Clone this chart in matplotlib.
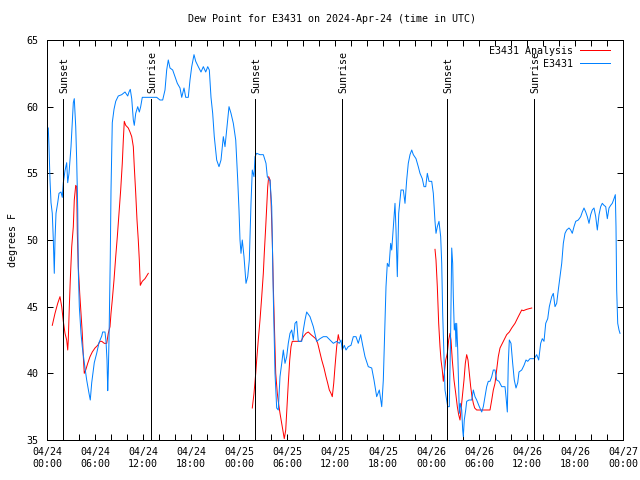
import numpy as np
import matplotlib
matplotlib.use("Agg")
import matplotlib.pyplot as plt

# ---------------- data (hours since 2024-04-24 00:00 UTC) ----------------
obs_hours = [0.16, 0.25, 0.375, 0.5, 0.66, 0.79, 0.91, 1.0, 1.125, 1.34, 1.5, 1.75, 1.91, 2.04, 2.25, 2.46,
             2.59, 2.75, 2.875, 3.0, 3.16, 3.29, 3.41, 3.59, 3.71, 3.84, 3.91, 4.04, 4.25, 4.41, 4.66, 4.96,
             5.25, 5.41, 5.59, 5.91, 6.21, 6.5, 6.84, 6.96, 7.25, 7.375, 7.5, 7.59, 7.66, 7.75, 7.91, 8.0,
             8.16, 8.375, 8.59, 8.91, 9.34, 9.75, 10.09, 10.25, 10.41, 10.59, 10.79, 10.91, 11.09, 11.34,
             11.54, 11.71, 11.91, 13.71, 14.125, 14.46, 14.75, 14.96, 15.16, 15.375, 15.71, 16.0, 16.29,
             16.625, 16.84, 17.125, 17.34, 17.66, 17.875, 18.09, 18.375, 18.59, 18.91, 19.25, 19.54, 19.84,
             20.09, 20.29, 20.5, 20.71, 20.91, 21.21, 21.5, 21.75, 22.04, 22.25, 22.46, 22.75, 23.0, 23.29,
             23.59, 23.84, 24.0, 24.125, 24.25, 24.41, 24.625, 24.875, 25.09, 25.29, 25.5, 25.66, 25.875,
             26.0, 26.21, 26.625, 27.04, 27.375, 27.54, 27.79, 27.875, 28.09, 28.29, 28.5, 28.71, 28.91,
             29.125, 29.34, 29.54, 29.75, 29.96, 30.16, 30.375, 30.59, 30.79, 31.0, 31.21, 31.41, 31.84,
             32.04, 32.25, 32.46, 32.875, 33.29, 33.71, 34.125, 34.54, 34.96, 35.375, 35.79, 36.21, 36.54,
             36.75, 36.91, 37.16, 37.375, 37.66, 38.0, 38.29, 38.625, 38.91, 39.21, 39.46, 39.75, 40.16,
             40.59, 40.875, 41.21, 41.54, 41.84, 42.04, 42.25, 42.375, 42.54, 42.75, 42.96, 43.09, 43.375,
             43.5, 43.625, 43.79, 43.96, 44.25, 44.54, 44.75, 44.96, 45.16, 45.375, 45.59, 45.79, 46.125,
             46.41, 46.625, 46.91, 47.125, 47.34, 47.54, 47.75, 48.09, 48.29, 48.5, 48.625, 48.79, 49.0,
             49.21, 49.34, 49.46, 49.625, 49.75, 49.96, 50.09, 50.29, 50.46, 50.59, 50.71, 50.79, 50.91,
             51.04, 51.125, 51.21, 51.34, 51.46, 51.54, 51.66, 51.84, 51.96, 52.04, 52.16, 52.34, 52.46,
             52.75, 53.09, 53.29, 53.5, 53.71, 54.04, 54.34, 54.54, 54.75, 54.96, 55.16, 55.375, 55.59,
             55.79, 56.0, 56.21, 56.5, 56.84, 57.25, 57.375, 57.54, 57.66, 57.79, 58.0, 58.21, 58.41,
             58.625, 58.84, 59.0, 59.34, 59.625, 59.875, 60.09, 60.375, 60.66, 60.91, 61.21, 61.46, 61.71,
             61.91, 62.125, 62.34, 62.59, 62.79, 63.09, 63.29, 63.5, 63.71, 63.91, 64.125, 64.34, 64.54,
             64.75, 64.96, 65.25, 65.46, 65.66, 65.875, 66.09, 66.41, 66.71, 66.91, 67.125, 67.34, 67.54,
             67.75, 67.96, 68.16, 68.375, 68.59, 68.79, 69.0, 69.21, 69.41, 69.625, 69.84, 70.04, 70.25,
             70.46, 70.66, 70.875, 71.04, 71.125, 71.21, 71.34, 71.5, 71.625]
obs_dewpt = [58.4, 57.0, 54.5, 52.8, 52.0, 50.0, 47.5, 50.0, 52.0, 52.8, 53.5, 53.6, 53.2, 54.3, 55.2, 55.8,
             54.3, 55.0, 56.0, 57.0, 58.8, 60.3, 60.6, 58.5, 56.0, 52.3, 47.8, 45.0, 43.0, 42.0, 40.8, 39.5,
             38.5, 38.0, 39.3, 40.8, 41.5, 42.3, 42.8, 43.1, 43.1, 42.4, 41.0, 38.7, 40.0, 42.5, 48.7, 53.7,
             58.8, 59.8, 60.4, 60.8, 60.9, 61.1, 60.8, 61.1, 61.3, 60.6, 59.0, 58.6, 59.5, 60.0,
             59.6, 60.0, 60.7, 60.7, 60.5, 60.5, 61.25, 62.75, 63.5, 62.9, 62.75, 62.25, 61.75,
             61.4, 60.7, 61.4, 60.7, 60.7, 62.0, 63.0, 63.9, 63.4, 63.0, 62.6, 63.0, 62.6,
             63.0, 62.75, 60.7, 59.5, 57.75, 56.0, 55.5, 56.0, 57.75, 57.0, 58.25, 60.0, 59.5, 58.75,
             57.5, 54.5, 52.25, 50.0, 49.0, 50.0, 48.75, 46.75, 47.25, 48.5, 52.75, 55.25, 54.75,
             56.25, 56.5, 56.4, 56.4, 55.75, 54.75, 54.5, 54.5, 52.5, 45.75, 40.0, 37.4, 37.25,
             39.75, 40.75, 41.75, 40.75, 41.25, 42.25, 43.0, 43.25, 42.5, 43.75, 43.9, 42.4, 42.4,
             43.25, 44.0, 44.6, 44.25, 43.5, 42.4, 42.6, 42.75, 42.75, 42.5, 42.25, 42.4, 42.25,
             42.5, 41.75, 42.1, 41.75, 42.0, 42.1, 42.75, 42.75, 42.25, 42.9, 42.1, 41.25, 40.5,
             40.4, 39.5, 38.25, 38.75, 37.5, 39.5, 43.75, 46.5, 48.25, 48.0, 49.75, 49.25, 51.75,
             52.75, 50.75, 47.25, 52.0, 53.75, 53.75, 52.75, 54.5, 55.75, 56.4, 56.75, 56.4, 56.1,
             55.5, 55.0, 54.6, 54.0, 54.0, 55.0, 54.4, 54.4, 53.5, 51.4, 50.5, 51.0, 51.4,
             50.25, 48.25, 44.5, 41.25, 38.75, 38.0, 37.5, 37.5, 43.25, 49.4, 48.25, 45.75, 43.25,
             43.75, 42.0, 43.75, 41.75, 38.75, 37.0, 37.75, 37.25, 35.75, 35.25, 36.5, 37.25, 37.9,
             38.0, 38.0, 38.75, 38.25, 38.0, 37.5, 37.1, 37.5, 38.25, 39.0, 39.4, 39.4, 39.75,
             40.25, 40.25, 39.5, 39.4, 39.0, 39.0, 38.25, 37.1, 40.75, 42.5, 42.25, 40.75, 39.5,
             38.9, 39.3, 40.1, 40.25, 40.6, 41.0, 40.9, 41.1, 41.1, 41.1, 41.4, 41.0, 42.25,
             42.6, 42.4, 43.75, 44.1, 45.0, 45.75, 46.0, 45.0, 45.25, 46.25, 47.25, 48.25, 49.75,
             50.5, 50.75, 50.9, 50.75, 50.5, 51.0, 51.4, 51.5, 51.75, 52.1, 52.4, 52.1, 51.75,
             51.25, 51.9, 52.25, 52.4, 51.75, 50.75, 51.9, 52.5, 52.75, 52.6, 52.5, 51.6, 52.4,
             52.6, 52.75, 53.1, 53.4, 51.0, 46.25, 43.75, 43.25, 43.0]

# analysis series (NaN separates the three night-time segments)
ana_hours = [0.66, 1.0, 1.34, 1.625, 1.84, 2.04, 2.25, 2.46, 2.59, 2.66, 2.79, 2.91, 3.09, 3.29, 3.41, 3.59,
             3.71, 3.79, 3.91, 4.09, 4.25, 4.41, 4.54, 4.66, 4.84, 5.09, 5.375, 5.66, 6.0, 6.34, 6.625,
             6.84, 7.16, 7.46, 7.66, 7.875, 8.0, 8.16, 8.375, 8.59, 8.79, 9.0, 9.21, 9.41, 9.54, 9.66,
             9.84, 10.16, 10.375, 10.59, 10.79, 10.91, 11.09, 11.25, 11.41, 11.54, 11.66, 11.91, 12.25,
             12.66, np.nan,
             25.66, 25.875, 26.09, 26.21, 26.41, 26.625, 26.84, 27.04, 27.16, 27.34, 27.46, 27.59, 27.71,
             27.875, 28.0, 28.16, 28.29, 28.41, 28.59, 28.79, 28.91, 29.125, 29.41, 29.66, 29.84, 30.0,
             30.16, 30.34, 30.5, 30.66, 31.0, 31.41, 31.75, 32.04, 32.375, 32.66, 33.0, 33.29, 33.59,
             33.84, 34.04, 34.34, 34.625, 34.875, 35.09, 35.29, 35.5, 35.66, 35.84, 36.0, 36.21, 36.41,
             36.54, np.nan,
             48.5, 48.625, 48.79, 48.96, 49.125, 49.25, 49.41, 49.54, 49.66, 49.84, 50.04, 50.21, 50.375,
             50.5, 50.66, 50.875, 51.09, 51.29, 51.46, 51.625, 51.79, 51.96, 52.125, 52.29, 52.46, 52.625,
             52.79, 52.96, 53.125, 53.29, 53.46, 53.71, 55.375, 55.59, 55.79, 56.0, 56.21, 56.41, 56.625,
             57.04, 57.46, 57.79, 58.09, 58.5, 58.91, 59.34, 59.54, 59.96, 60.59]
ana_dewpt = [43.6, 44.5, 45.25, 45.75, 45.0, 43.9, 43.0, 42.5, 41.75, 42.5, 45.0, 47.0, 49.5, 51.0, 53.0, 54.1,
             54.0, 50.5, 48.0, 46.0, 44.5, 43.0, 41.25, 40.0, 40.25, 40.75, 41.25, 41.6, 41.9, 42.1, 42.4,
             42.4, 42.25, 42.25, 43.0, 43.5, 44.5, 45.5, 47.0, 48.75, 50.25, 52.0, 53.75, 55.75, 57.5, 58.9,
             58.6, 58.4, 58.1, 57.75, 57.0, 55.5, 53.5, 51.5, 50.0, 48.5, 46.6, 46.9, 47.1,
             47.5, np.nan,
             37.4, 38.5, 40.0, 41.0, 42.5, 44.0, 45.75, 47.5, 49.0, 51.0, 52.5, 54.0, 54.75,
             54.5, 53.0, 50.0, 46.5, 44.0, 40.0, 38.5, 37.9, 37.0, 36.0, 35.1, 35.75, 37.5,
             39.25, 41.0, 42.0, 42.4, 42.4, 42.4, 42.4, 42.75, 43.0, 43.1, 42.9, 42.75, 42.6,
             42.25, 41.75, 41.0, 40.4, 39.75, 39.25, 38.75, 38.5, 38.25, 39.25, 40.5, 42.0, 42.9,
             42.5, np.nan,
             49.3, 48.5, 46.5, 43.75, 42.0, 41.0, 40.25, 39.4, 40.0, 41.0, 41.5, 42.5, 43.0,
             42.5, 41.0, 39.5, 38.5, 37.5, 36.9, 36.5, 37.5, 38.5, 39.5, 40.75, 41.4, 41.0,
             40.0, 39.0, 38.25, 37.75, 37.4, 37.25, 37.25, 38.0, 38.75, 39.25, 40.25, 41.25, 41.9,
             42.4, 42.9, 43.1, 43.4, 43.75, 44.25, 44.75, 44.7, 44.8, 44.9]

sun_hours = [2.04, 12.96, 26.04, 36.9, 50.04, 60.91]
sun_labels = ["Sunset", "Sunrise", "Sunset", "Sunrise", "Sunset", "Sunrise"]

xtick_hours = [0, 6, 12, 18, 24, 30, 36, 42, 48, 54, 60, 66, 72]
xtick_labels = ["04/24\n00:00", "04/24\n06:00", "04/24\n12:00", "04/24\n18:00",
                "04/25\n00:00", "04/25\n06:00", "04/25\n12:00", "04/25\n18:00",
                "04/26\n00:00", "04/26\n06:00", "04/26\n12:00", "04/26\n18:00",
                "04/27\n00:00"]
ytick_values = [35, 40, 45, 50, 55, 60, 65]

title = "Dew Point for E3431 on 2024-Apr-24 (time in UTC)"
ylabel = "degrees F"
label_analysis = "E3431 Analysis"
label_obs = "E3431"

# ---------------- plot ----------------
FONT = "DejaVu Sans Mono"
FS = 7.2
LW = 0.72
plt.rcParams["font.family"] = FONT
plt.rcParams["font.size"] = FS

fig = plt.figure(figsize=(6.4, 4.8), dpi=100)
ax = fig.add_axes([47 / 640, 1 - 440 / 480, 576 / 640, 400 / 480])

ax.plot(ana_hours, ana_dewpt, color="#ff0000", lw=LW, label=label_analysis)
ax.plot(obs_hours, obs_dewpt, color="#0080ff", lw=LW, label=label_obs)

line_top = 60.6
for h, lab in zip(sun_hours, sun_labels):
    ax.plot([h, h], [35, line_top], color="black", lw=LW)
    ax.text(h + 0.18, line_top + 0.45, lab, rotation=90, ha="center", va="bottom", fontsize=FS)

ax.set_xlim(0, 72)
ax.set_ylim(35, 65)
ax.set_xticks(xtick_hours)
ax.set_xticklabels(xtick_labels)
ax.set_xticks(np.arange(0, 73, 2), minor=True)
ax.set_yticks(ytick_values)
ax.tick_params(which="both", direction="in", top=True, right=True, length=4, width=LW,
               labelsize=FS, pad=5)
ax.tick_params(axis="y", pad=6)
for sp in ax.spines.values():
    sp.set_linewidth(LW)

ax.set_ylabel(ylabel, fontsize=FS, labelpad=6)
fig.text(332 / 640, 1 - 19 / 480, title, ha="center", va="center", fontsize=FS)

leg = ax.legend(loc="upper right", bbox_to_anchor=(0.977, 0.985), frameon=False, fontsize=FS,
                markerfirst=False, handlelength=3.0, handletextpad=0.7, labelspacing=0.3,
                borderaxespad=0, borderpad=0)
for t in leg.get_texts():
    t.set_ha("right")

fig.savefig("out.png", dpi=100)
